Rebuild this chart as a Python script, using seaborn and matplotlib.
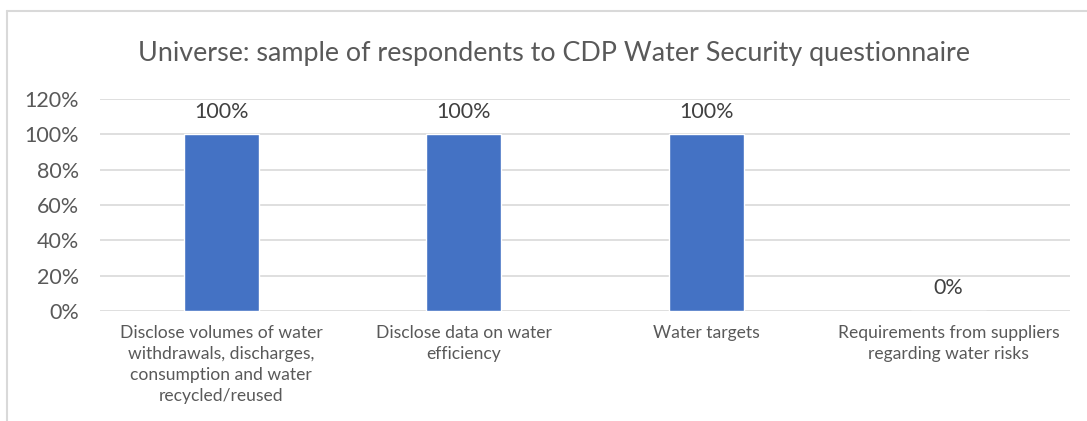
import numpy as np
import pandas as pd
import seaborn as sns
import matplotlib.pyplot as plt
from matplotlib.lines import Line2D
from matplotlib.ticker import FuncFormatter

categories = [
    "Disclose volumes of water\nwithdrawals, discharges,\nconsumption and water\nrecycled/reused",
    "Disclose data on water\nefficiency",
    "Water targets",
    "Requirements from suppliers\nregarding water risks",
]
shares = [1.0, 1.0, 1.0, 0.0]
y_ticks = [0, 0.2, 0.4, 0.6, 0.8, 1.0, 1.2]
title = "Universe: sample of respondents to CDP Water Security questionnaire"

TEXT = "#595959"
GRID = "#D9D9D9"
BAR = "#4472C4"

sns.set_style("white")
plt.rcParams["font.family"] = ["Lato", "DejaVu Sans"]

df = pd.DataFrame({"category": categories, "share": shares})

fig = plt.figure(figsize=(10.87, 4.21), dpi=100)
ax = fig.add_axes([100 / 1087, 1 - 311 / 421, 970 / 1087, 212 / 421])

sns.barplot(data=df, x="category", y="share", color=BAR, width=0.31,
            saturation=1, ax=ax, zorder=3)

ax.set_ylim(0, 1.2)
ax.set_yticks(y_ticks)
ax.yaxis.set_major_formatter(FuncFormatter(lambda v, _: f"{v * 100:.0f}%"))
ax.grid(axis="y", color=GRID, linewidth=1.2, zorder=0)
ax.set_axisbelow(True)
for s in ax.spines.values():
    s.set_visible(False)
ax.tick_params(axis="y", length=0, pad=15, labelsize=15.5, labelcolor=TEXT)
ax.tick_params(axis="x", length=0, pad=10, labelsize=12.6, labelcolor=TEXT)
for lbl in ax.get_xticklabels():
    lbl.set_linespacing(1.4)
ax.set_xlabel("")
ax.set_ylabel("")

for c in ax.containers:
    ax.bar_label(c, labels=[f"{v * 100:.0f}%" for v in shares],
                 padding=9, fontsize=15.5, color="#404040")

fig.text(0.51, 1 - 53 / 421, title, ha="center", va="center",
         fontsize=19.4, color=TEXT)

# chart frame (top and left edges visible in the crop)
fig.add_artist(Line2D([7 / 1087, 7 / 1087], [0, 1 - 11 / 421],
                      transform=fig.transFigure, color=GRID, lw=1.5))
fig.add_artist(Line2D([7 / 1087, 1], [1 - 11 / 421, 1 - 11 / 421],
                      transform=fig.transFigure, color=GRID, lw=1.5))

fig.savefig("out.png", dpi=100, facecolor="white")
